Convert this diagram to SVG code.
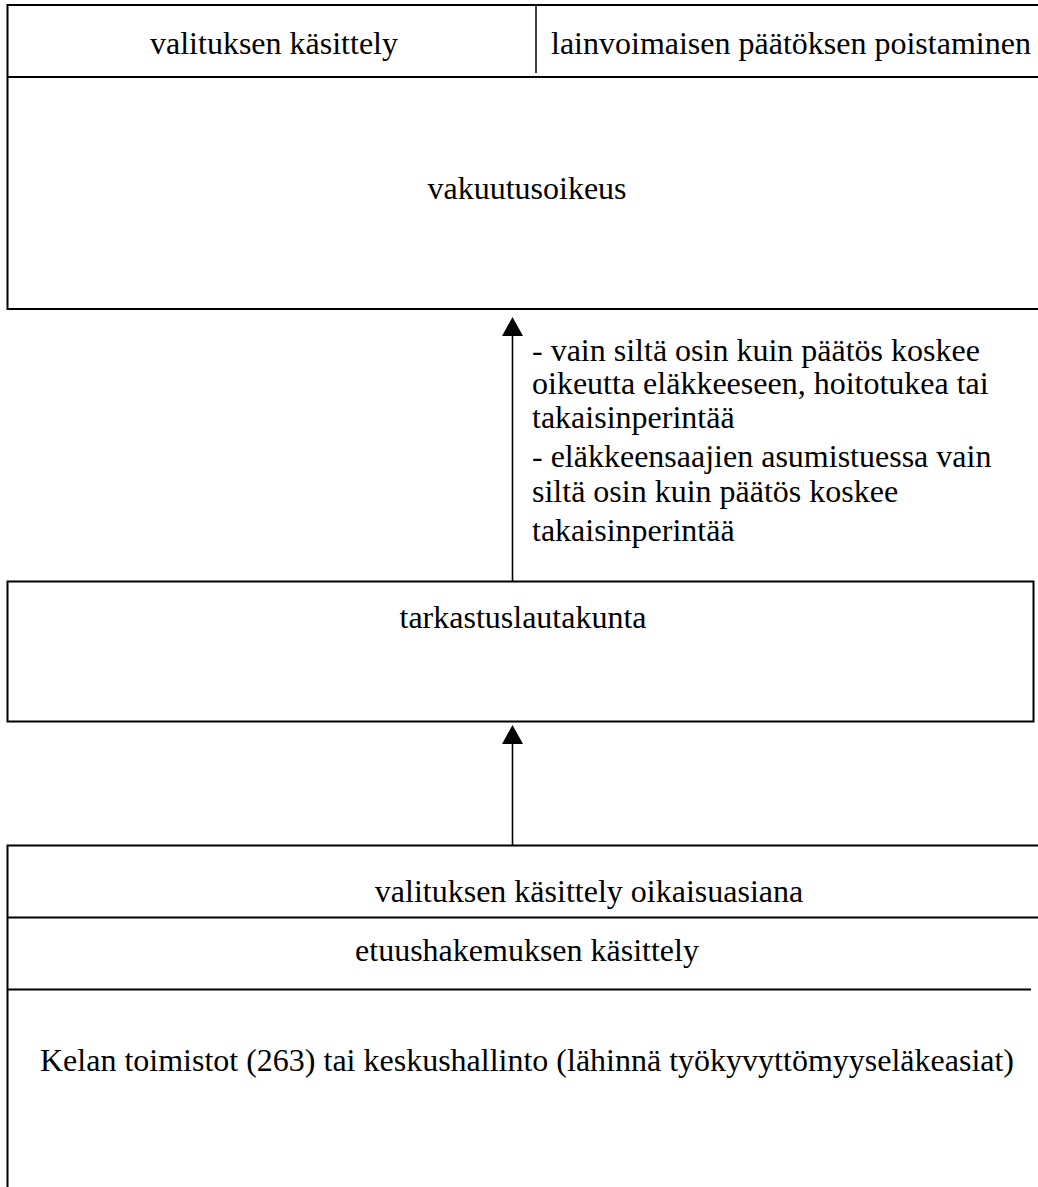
<svg xmlns="http://www.w3.org/2000/svg" width="1038" height="1187" viewBox="0 0 1038 1187">
  <style>
    .frame { fill: none; stroke: #000; stroke-width: 2; }
    .thin { fill: none; stroke: #000; stroke-width: 1.5; }
    .lbl { font-family: "Liberation Serif", "Times New Roman", serif; font-size: 32px; fill: #000; }
    .mid { text-anchor: middle; }
    .link { fill: none; stroke: #000; stroke-width: 1.6; }
  </style>
  <defs>
    <!-- solid triangular head; its base sits on the line end, tip 19px further on -->
    <marker id="head" viewBox="0 0 19 21" refX="0" refY="10.5" markerWidth="19" markerHeight="21" markerUnits="userSpaceOnUse" orient="auto">
      <path d="M0,0 L19,10.5 L0,21 Z" fill="#000"/>
    </marker>
  </defs>
  <rect width="1038" height="1187" fill="#fff"/>

  <!-- Insurance court, with its two task cells on top -->
  <g id="vakuutusoikeus">
    <path class="frame" d="M1038,5 H7.5 V309 H1038"/>
    <path class="frame" d="M7.5,77 H1038"/>
    <path class="thin" d="M536,5 V73"/>
    <text class="lbl mid" x="274" y="54">valituksen käsittely</text>
    <text class="lbl" x="551" y="54">lainvoimaisen päätöksen poistaminen</text>
    <text class="lbl mid" x="527" y="199">vakuutusoikeus</text>
  </g>

  <!-- Review board -->
  <g id="tarkastuslautakunta">
    <rect class="frame" x="7.5" y="581.5" width="1026" height="140"/>
    <text class="lbl mid" x="523" y="628">tarkastuslautakunta</text>
  </g>

  <!-- Kela offices / central administration -->
  <g id="kela">
    <path class="frame" d="M1038,845.5 H7.5 V1187"/>
    <path class="frame" d="M7.5,917.5 H1038"/>
    <path class="frame" d="M7.5,989.5 H1031"/>
    <text class="lbl mid" x="589" y="902">valituksen käsittely oikaisuasiana</text>
    <text class="lbl mid" x="527" y="961">etuushakemuksen käsittely</text>
    <text class="lbl mid" x="527" y="1071">Kelan toimistot (263) tai keskushallinto (lähinnä työkyvyttömyyseläkeasiat)</text>
  </g>

  <!-- Appeal paths -->
  <g id="connectors">
    <path class="link" d="M512.5,581 V336" marker-end="url(#head)"/>
    <path class="link" d="M512.5,845 V744" marker-end="url(#head)"/>
  </g>

  <!-- Conditions for the further appeal -->
  <g id="appeal-note">
    <text class="lbl" x="532">
      <tspan x="532" y="361">- vain siltä osin kuin päätös koskee</tspan>
      <tspan x="532" y="394">oikeutta eläkkeeseen, hoitotukea tai</tspan>
      <tspan x="532" y="428">takaisinperintää</tspan>
      <tspan x="532" y="467">- eläkkeensaajien asumistuessa vain</tspan>
      <tspan x="532" y="502">siltä osin kuin päätös koskee</tspan>
      <tspan x="532" y="541">takaisinperintää</tspan>
    </text>
  </g>
</svg>
